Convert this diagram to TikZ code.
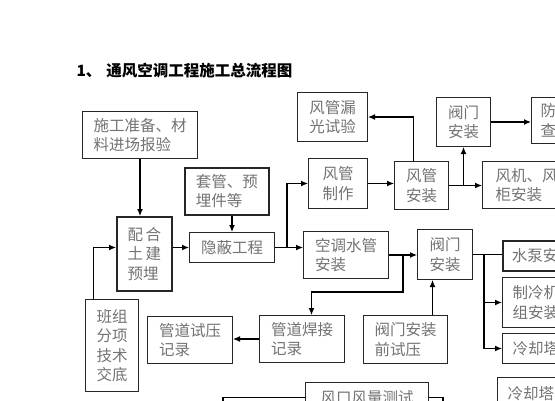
\documentclass[tikz,border=0pt]{standalone}
\usepackage{fontspec}
\usepackage{xcolor}
\usetikzlibrary{arrows.meta}
\newfontfamily\cjk{Noto Sans CJK SC}

\tikzset{
  box/.style={draw=black!85, line width=1pt, anchor=north west, text=black!55,
              font=\cjk\fontsize{15.5}{19.5}\selectfont, align=left, inner sep=3pt},
  thickbox/.style={box, line width=1.6pt},
  edgebox/.style={box, text width=110pt, inner xsep=9pt},
  arr/.style={line width=1.2pt, -{Latex[length=7pt,width=6pt]}},
  link/.style={line width=1.2pt}
}

\begin{document}
\begin{tikzpicture}[x=1pt,y=-1pt]
\useasboundingbox (0,0) rectangle (555,400);
\fill [white] (0,0) rectangle (555,400);
\clip (0,0) rectangle (555,400);

\node [anchor=west, font=\cjk\bfseries\fontsize{15.5}{18}\selectfont] (title)
       at (73,71) {1、\hspace{5pt}通风空调工程施工总流程图};

% left column
\node [box, minimum width=115, minimum height=47] (prep)
       at (82,111) {施工准备、材\\料进场报验};
\node [thickbox, minimum width=84, minimum height=47] (sleeve)
       at (184,167) {套管、预\\埋件等};
\node [thickbox, minimum width=55, minimum height=74] (embed)
       at (116,216) {配\,合\\土\,建\\预埋};
\node [box, minimum width=85, minimum height=30] (conceal)
       at (189,232) {隐蔽工程};
\node [box, minimum width=53, minimum height=92] (team)
       at (85,299) {班组\\分项\\技术\\交底};
\node [box, minimum width=85, minimum height=47] (testrec)
       at (147,316) {管道试压\\记录};
\node [box, minimum width=85, minimum height=47] (weldrec)
       at (259,315) {管道焊接\\记录};

% duct line
\node [box, minimum width=70, minimum height=49] (leaktest)
       at (297,92) {风管漏\\光试验};
\node [box, minimum width=59, minimum height=50] (ductmake)
       at (308,158) {风管\\制作};
\node [box, minimum width=54, minimum height=48] (ductinst)
       at (394,161) {风管\\安装};
\node [box, minimum width=54, minimum height=49] (valveA)
       at (436,97) {阀门\\安装};
\node [edgebox, minimum height=46] (fireck)
       at (531,97) {防\\查};
\node [edgebox, minimum height=47, inner xsep=13pt] (fan)
       at (482,161) {风机、风\\柜安装};

% water line
\node [box, minimum width=85, minimum height=47] (waterpipe)
       at (303,231) {空调水管\\安装};
\node [box, minimum width=55, minimum height=50] (valveB)
       at (417,229) {阀门\\安装};
\node [box, minimum width=84, minimum height=48] (pretest)
       at (363,315) {阀门安装\\前试压};
\node [edgebox, minimum height=30, line width=1.5pt] (pump)
       at (502,240) {水泵安};
\node [edgebox, minimum height=50, inner xsep=10pt] (chiller)
       at (502,277) {制冷机\\组安装};
\node [edgebox, minimum height=30, inner xsep=10pt] (towerA)
       at (502,333) {冷却塔};
\node [edgebox, minimum height=32, inner xsep=10pt] (towerB)
       at (497,377) {冷却塔};
\node [box, minimum width=123, minimum height=30] (airtest)
       at (305,382) {风口风量测试};

\coordinate (airL) at (223,410);
\coordinate (airR) at (443,410);

% connectors
\draw [arr] (prep.south) -- (prep.south |- embed.north);
\draw [arr] (sleeve.south -| conceal.north) -- (conceal.north);
\draw [arr] (embed.east |- conceal.west) -- (conceal.west);
\draw [arr] ([xshift=-18.5pt]team.north) |- (embed.west |- conceal.west);
\draw [arr] (conceal.east) -- (conceal.east -| waterpipe.west);
\draw [arr] ([xshift=12pt]conceal.east) |- (ductmake.west);
\draw [arr] (ductmake.east) -- (ductmake.east -| ductinst.west);
\draw [arr] ([xshift=-8pt]ductinst.north) |- (leaktest.east);
\draw [arr] (ductinst.east) -- (ductinst.east -| fan.west);
\draw [arr] (valveA.south |- ductinst.east) -- (valveA.south);
\draw [arr] (valveA.east) -- (valveA.east -| fireck.west);
\draw [arr] (waterpipe.east) -- (waterpipe.east -| valveB.west);
\draw [arr] ([xshift=14pt]waterpipe.east) -- ++(0,37) -| ([xshift=9.5pt]weldrec.north);
\draw [arr] ([xshift=-12.5pt]valveB.south |- pretest.north) -- ([xshift=-12.5pt]valveB.south);
\draw [arr] (weldrec.west) -- (weldrec.west -| testrec.east);
\draw [link] (valveB.east) -- (valveB.east -| pump.west);
\draw [arr] ([xshift=11pt]valveB.east) |- (chiller.west);
\draw [arr] ([xshift=11pt]valveB.east) |- (towerA.west);
\draw [link] (airL) |- (airtest.west);
\draw [link] (airtest.east) -| (airR);
\end{tikzpicture}
\end{document}
